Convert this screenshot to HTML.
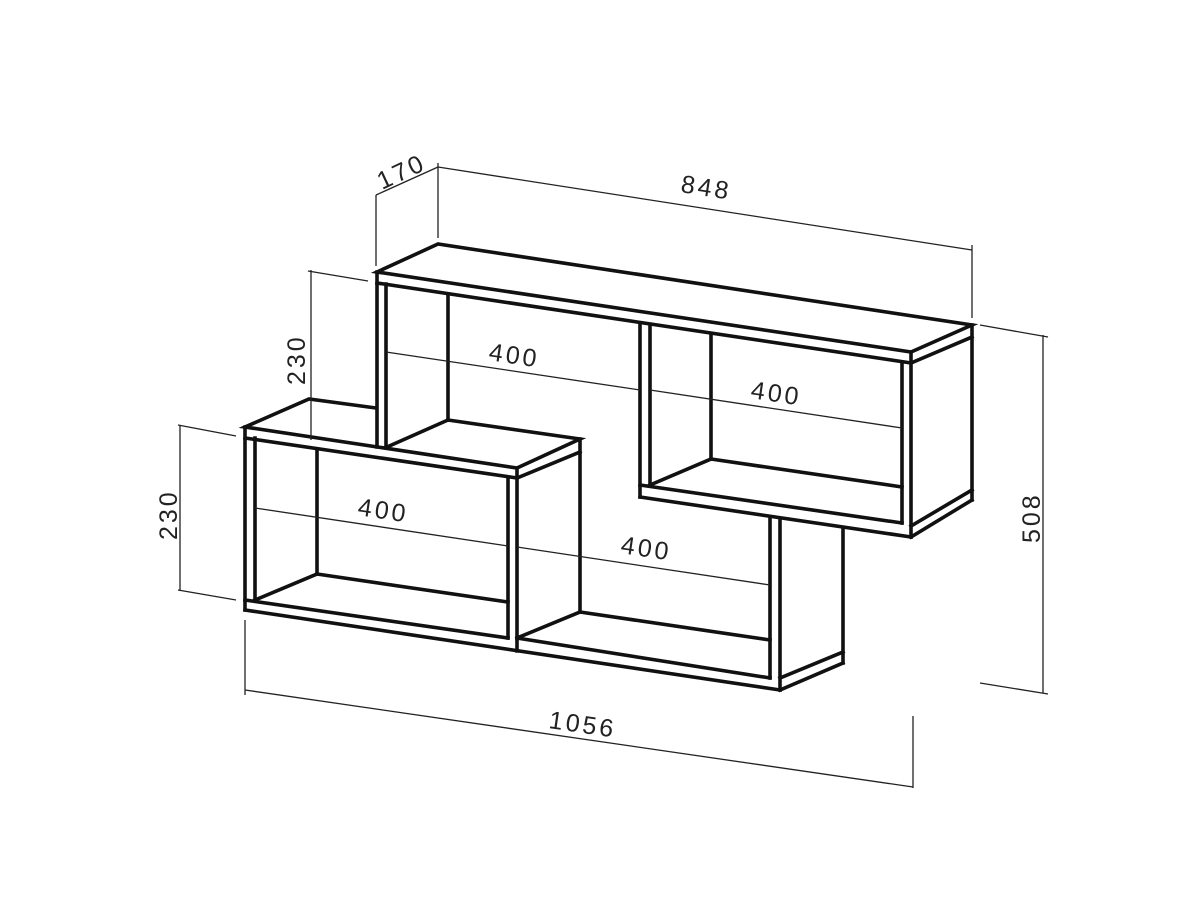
<!DOCTYPE html>
<html><head><meta charset="utf-8"><style>
html,body{margin:0;padding:0;background:#fff;}
svg{display:block;}
text{font-family:"Liberation Sans",sans-serif;font-size:25px;fill:#222;letter-spacing:3px;}
.m{stroke:#111;stroke-width:3.6;fill:none;stroke-linejoin:miter;stroke-linecap:square;}
.d{stroke:#222;stroke-width:1.3;fill:none;}
</style></head><body>
<svg width="1200" height="900" viewBox="0 0 1200 900" xmlns="http://www.w3.org/2000/svg">
<rect width="1200" height="900" fill="#fff"/>
<g class="m">
<polygon points="377,272 438,244 972,325 911,352"/>
<line x1="377" y1="283" x2="911" y2="363"/>
<line x1="377" y1="272" x2="377" y2="447"/>
<line x1="386" y1="284" x2="386" y2="447"/>
<line x1="448" y1="295" x2="448" y2="420"/>
<line x1="640" y1="324" x2="640" y2="497"/>
<line x1="650" y1="325" x2="650" y2="485"/>
<line x1="711" y1="335" x2="711" y2="459"/>
<line x1="711" y1="459" x2="902" y2="487"/>
<line x1="650" y1="485" x2="711" y2="459"/>
<line x1="640" y1="485" x2="902" y2="523"/>
<line x1="640" y1="497" x2="911" y2="537"/>
<line x1="902" y1="362" x2="902" y2="523"/>
<line x1="911" y1="352" x2="911" y2="537"/>
<line x1="972" y1="325" x2="972" y2="500"/>
<line x1="911" y1="363" x2="972" y2="337"/>
<line x1="911" y1="526" x2="972" y2="490"/>
<line x1="911" y1="537" x2="972" y2="500"/>
<polyline points="376,408 309,399 245,427 517,468 580,439 448,420"/>
<line x1="387" y1="447" x2="448" y2="420"/>
<line x1="245" y1="438" x2="517" y2="478"/>
<line x1="517" y1="478" x2="580" y2="452"/>
<line x1="580" y1="439" x2="580" y2="612"/>
<line x1="245" y1="427" x2="245" y2="610"/>
<line x1="255" y1="438" x2="255" y2="600"/>
<line x1="317" y1="449" x2="317" y2="574"/>
<line x1="317" y1="574" x2="508" y2="602"/>
<line x1="255" y1="600" x2="317" y2="574"/>
<line x1="508" y1="478" x2="508" y2="638"/>
<line x1="517" y1="468" x2="517" y2="651"/>
<line x1="245" y1="600" x2="508" y2="638"/>
<line x1="517" y1="638" x2="770" y2="678"/>
<line x1="245" y1="610" x2="780" y2="690"/>
<line x1="517" y1="638" x2="580" y2="612"/>
<line x1="580" y1="612" x2="770" y2="640"/>
<line x1="770" y1="518" x2="770" y2="678"/>
<line x1="780" y1="519" x2="780" y2="690"/>
<line x1="843" y1="528" x2="843" y2="663"/>
<line x1="780" y1="678" x2="843" y2="652"/>
<line x1="780" y1="690" x2="843" y2="663"/>
</g>
<g class="d">
<line x1="376" y1="195" x2="376" y2="266"/>
<line x1="438" y1="163" x2="438" y2="238"/>
<line x1="376" y1="195" x2="438" y2="167"/>
<line x1="438" y1="167" x2="972" y2="250"/>
<line x1="972" y1="245" x2="972" y2="318"/>
<line x1="311" y1="270" x2="311" y2="440"/>
<line x1="308" y1="271" x2="368" y2="281"/>
<line x1="180" y1="425" x2="180" y2="591"/>
<line x1="178" y1="425" x2="236" y2="436"/>
<line x1="178" y1="590" x2="236" y2="600"/>
<line x1="1043" y1="335" x2="1043" y2="693"/>
<line x1="980" y1="325" x2="1048" y2="337"/>
<line x1="980" y1="683" x2="1048" y2="694"/>
<line x1="245" y1="620" x2="245" y2="695"/>
<line x1="913" y1="716" x2="913" y2="788"/>
<line x1="245" y1="690" x2="913" y2="787"/>
<line x1="386" y1="352" x2="640" y2="390"/>
<line x1="650" y1="390" x2="902" y2="428"/>
<line x1="255" y1="508" x2="508" y2="546"/>
<line x1="517" y1="547" x2="770" y2="585"/>
</g>
<text transform="translate(382,190) rotate(-25)">170</text>
<text transform="translate(680,192) rotate(8.8)">848</text>
<text transform="translate(305,385) rotate(-90)">230</text>
<text transform="translate(177,540) rotate(-90)">230</text>
<text transform="translate(1040,543) rotate(-90)">508</text>
<text transform="translate(548,728) rotate(8.2)">1056</text>
<text transform="translate(488,360) rotate(8.5)">400</text>
<text transform="translate(750,398) rotate(8.5)">400</text>
<text transform="translate(357,515) rotate(8.5)">400</text>
<text transform="translate(620,553) rotate(8.5)">400</text>
</svg>
</body></html>
